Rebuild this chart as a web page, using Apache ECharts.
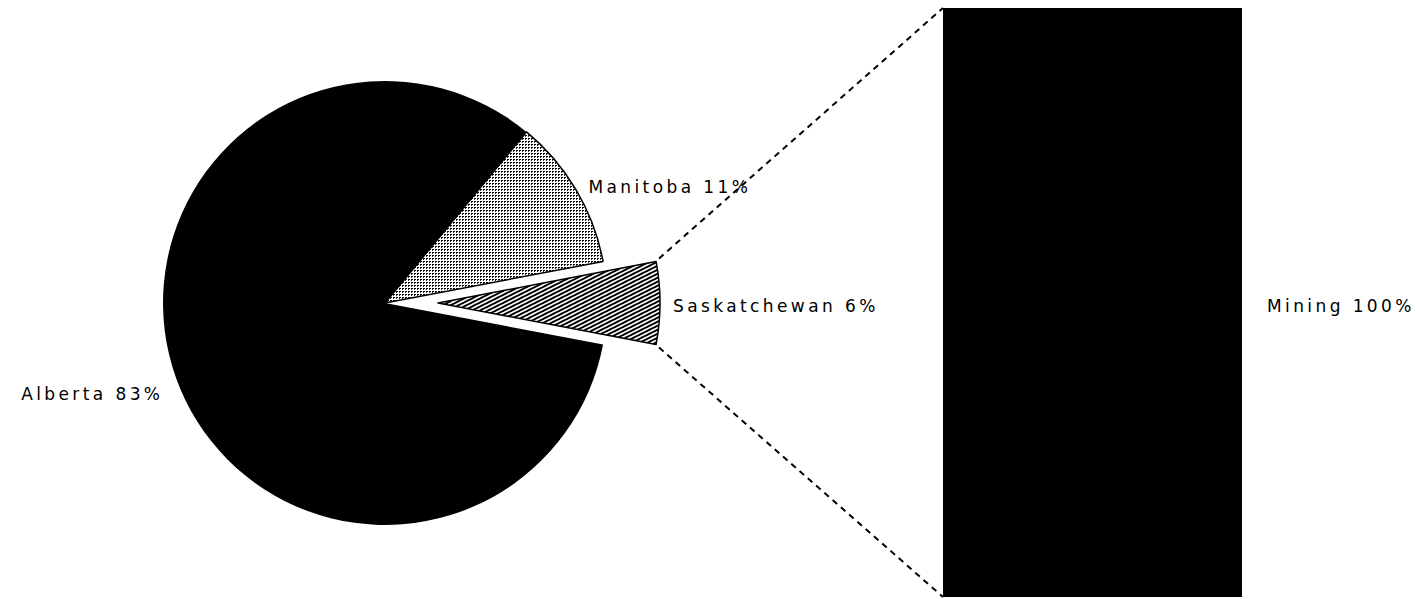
<!DOCTYPE html>
<html>
<head>
<meta charset="utf-8">
<script src="https://cdn.jsdelivr.net/npm/echarts@6/dist/echarts.min.js"></script>
<style>
  html, body { margin: 0; padding: 0; background: #ffffff; }
  #chart { width: 1416px; height: 599px; }
  /* wide, typewriter-like spacing for every label */
  #chart text { letter-spacing: 3.4px; }
</style>
</head>
<body>
<div id="chart"></div>
<script>
// Provincial breakdown (pie) and the industry split of the exploded slice (bar)
const provinces = ['Manitoba', 'Saskatchewan', 'Alberta'];
const provinceShares = [11, 6, 83];
const explodedProvince = 'Saskatchewan';
const industries = ['Mining'];
const industryShares = [100];

// Fill patterns drawn on small tiles
function dotTile() {
  const c = document.createElement('canvas');
  c.width = 3; c.height = 3;
  const g = c.getContext('2d');
  g.fillStyle = '#ffffff'; g.fillRect(0, 0, 3, 3);
  g.fillStyle = '#000000'; g.fillRect(0, 0, 2, 1);
  g.fillStyle = '#333333'; g.fillRect(0, 1, 1, 1);
  return c;
}
function hatchTile() {
  const c = document.createElement('canvas');
  c.width = 8; c.height = 4;
  const g = c.getContext('2d');
  g.fillStyle = '#ffffff'; g.fillRect(0, 0, 8, 4);
  g.strokeStyle = '#000000'; g.lineWidth = 2;
  for (let k = -2; k <= 2; k++) {
    g.beginPath();
    g.moveTo(-8, 8 + 4 * k);
    g.lineTo(16, -4 + 4 * k);
    g.stroke();
  }
  return c;
}

const provinceFills = {
  Manitoba: { image: dotTile(), repeat: 'repeat' },
  Saskatchewan: { image: hatchTile(), repeat: 'repeat' },
  Alberta: '#000000'
};

const fontFamily = '"DejaVu Sans", Verdana, sans-serif';

const pieData = provinces.map((name, i) => ({
  name: name,
  value: provinceShares[i],
  selected: name === explodedProvince,
  itemStyle: {
    color: provinceFills[name],
    borderColor: '#000000',
    borderWidth: name === 'Alberta' ? 0 : 1.5
  }
}));

const chart = echarts.init(document.getElementById('chart'), null, { renderer: 'svg' });

chart.setOption({
  backgroundColor: '#ffffff',
  animation: false,
  tooltip: { show: false },
  grid: { left: 943, top: 8, width: 299, bottom: 2 },
  xAxis: { type: 'category', data: industries, show: false },
  yAxis: { type: 'value', min: 0, max: 100, show: false },
  series: [
    {
      type: 'pie',
      center: [385, 303],
      radius: 222,
      startAngle: 50.4,
      clockwise: true,
      selectedMode: 'single',
      selectedOffset: 53,
      avoidLabelOverlap: false,
      data: pieData,
      label: {
        show: true,
        position: 'outside',
        formatter: '{b} {c}%',
        color: '#000000',
        fontFamily: fontFamily,
        fontSize: 17,
        distanceToLabelLine: 5
      },
      labelLine: { show: false, length: 5, length2: 3 },
      labelLayout: function (p) {
        if (p.dataIndex === 2) return { dy: 7 };
        if (p.dataIndex === 1) return { dy: 3 };
        return {};
      },
      emphasis: { disabled: true },
      select: {
        itemStyle: { borderColor: '#000000', borderWidth: 1.5 },
        label: { color: '#000000' }
      }
    },
    {
      type: 'bar',
      data: industryShares,
      barWidth: '100%',
      itemStyle: { color: '#000000' },
      label: {
        show: true,
        position: 'right',
        distance: 25,
        offset: [0, 3],
        formatter: '{b} {c}%',
        color: '#000000',
        fontFamily: fontFamily,
        fontSize: 17
      },
      emphasis: { disabled: true }
    }
  ]
});

// Dashed connectors from the exploded wedge's outer corners to the bar's left corners
(function drawConnectors() {
  const model = chart.getModel();
  const pieSeries = model.getSeriesByIndex(0);
  const barSeries = model.getSeriesByIndex(1);
  const idx = provinces.indexOf(explodedProvince);
  const sl = pieSeries.getData().getItemLayout(idx);
  const offset = pieSeries.get('selectedOffset');
  const mid = (sl.startAngle + sl.endAngle) / 2;
  const ox = Math.cos(mid) * offset, oy = Math.sin(mid) * offset;
  const a = [sl.cx + ox + sl.r * Math.cos(sl.startAngle), sl.cy + oy + sl.r * Math.sin(sl.startAngle)];
  const b = [sl.cx + ox + sl.r * Math.cos(sl.endAngle), sl.cy + oy + sl.r * Math.sin(sl.endAngle)];
  const upper = a[1] < b[1] ? a : b;
  const lower = a[1] < b[1] ? b : a;

  const bl = barSeries.getData().getItemLayout(0);
  const top = Math.min(bl.y, bl.y + bl.height);
  const bottom = Math.max(bl.y, bl.y + bl.height);
  const left = bl.x;

  const style = { stroke: '#000000', lineWidth: 2, lineDash: [6, 5], fill: null };
  chart.setOption({
    graphic: [
      { type: 'line', silent: true, shape: { x1: upper[0] + 3, y1: upper[1] - 3, x2: left, y2: top }, style: style },
      { type: 'line', silent: true, shape: { x1: lower[0] + 3, y1: lower[1] + 3, x2: left, y2: bottom }, style: style }
    ]
  });
})();
</script>
</body>
</html>
